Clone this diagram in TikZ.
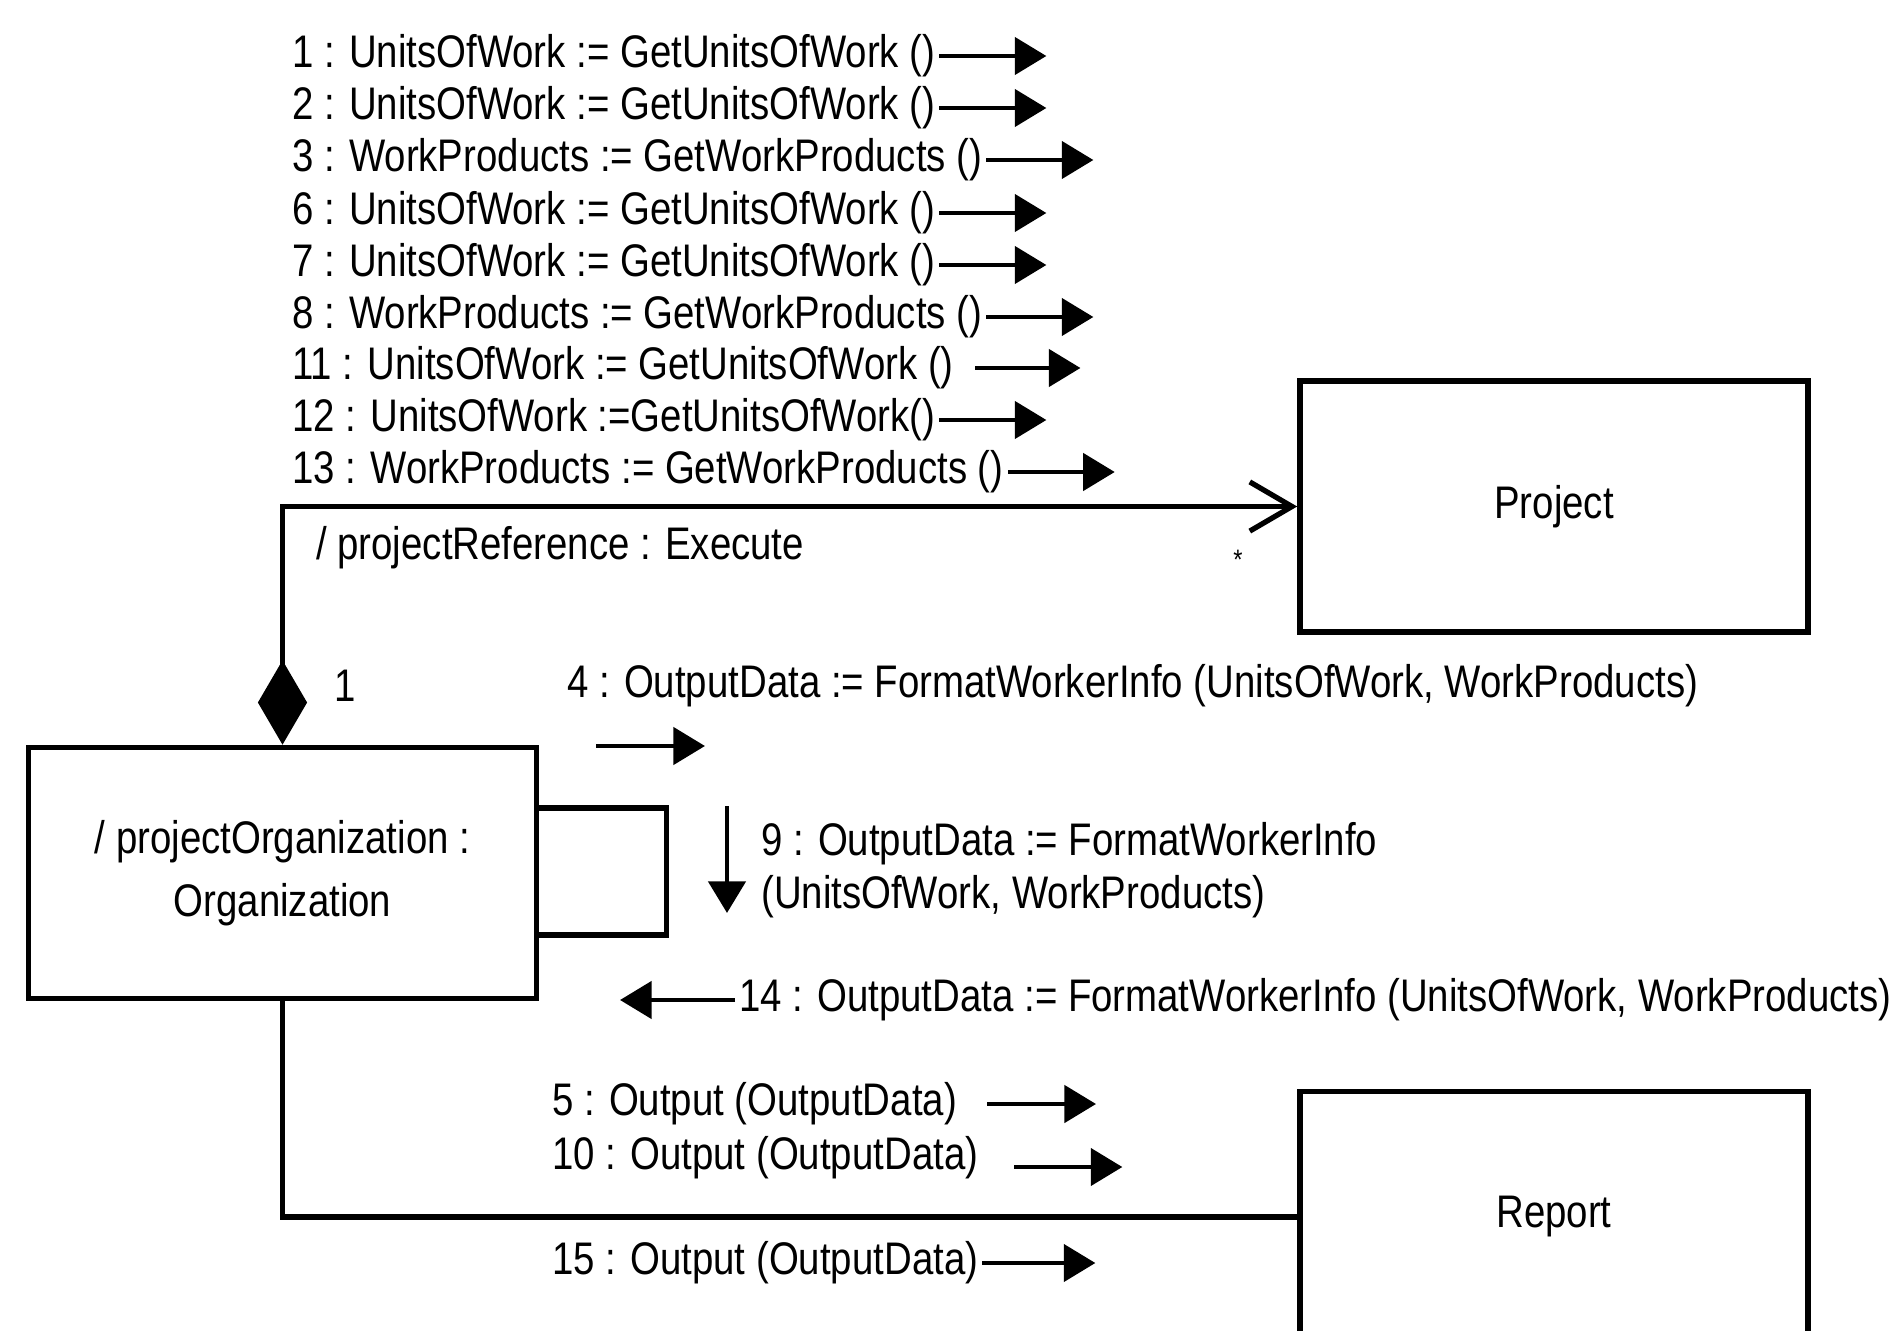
\documentclass[tikz,border=0pt]{standalone}
\usepackage{fontspec}
\setmainfont{Liberation Sans}[FakeStretch=0.84]
\usetikzlibrary{arrows.meta, positioning}

\begin{document}
\begin{tikzpicture}[
    font=\fontsize{13}{15}\selectfont,
    obj/.style={draw, line width=1.6pt, minimum width=5.08cm, minimum height=2.51cm, align=center},
    link/.style={line width=1.5pt},
    msg/.style={line width=1.4pt, -{Triangle[length=9pt,width=10.5pt]}},
    call/.style={anchor=west, inner sep=1pt}
  ]
  \useasboundingbox (0,0) rectangle (18.96,-13.31);
  \clip (0,0) rectangle (18.96,-13.31);

  % objects
  \node[obj] (proj) at (15.54,-5.065) {Project};
  \node[obj] (org) at (2.825,-8.73) {/ projectOrganization :\\[3pt]Organization};
  \node[obj] (rep) at (15.54,-12.17) {Report};

  % links between the objects
  \draw[link, {Diamond[length=24pt,width=14pt]}-{Straight Barb[length=12pt,width=14pt]}]
    (org.north) |- (proj.west);
  \draw[link] (org.south) |- (rep.west);
  \draw[link] ([yshift=6.5mm]org.east) -- ++(1.27,0) -- ++(0,-1.27) -- ++(-1.27,0);

  \node[call] (role) at (3.12,-5.48) {/ projectReference : Execute};
  \node[font=\footnotesize] (mult) at (12.38,-5.6) {*};
  \node (one) at (3.45,-6.86) {1};

  % messages to Project
  \node[call] (c1) at (2.88,-0.56) {1 : UnitsOfWork := GetUnitsOfWork ()};
  \draw[msg] (c1.east) -- ++(1.07,0);
  \node[call] (c2) at (2.88,-1.08) {2 : UnitsOfWork := GetUnitsOfWork ()};
  \draw[msg] (c2.east) -- ++(1.07,0);
  \node[call] (c3) at (2.88,-1.60) {3 : WorkProducts := GetWorkProducts ()};
  \draw[msg] (c3.east) -- ++(1.07,0);
  \node[call] (c6) at (2.88,-2.13) {6 : UnitsOfWork := GetUnitsOfWork ()};
  \draw[msg] (c6.east) -- ++(1.07,0);
  \node[call] (c7) at (2.88,-2.65) {7 : UnitsOfWork := GetUnitsOfWork ()};
  \draw[msg] (c7.east) -- ++(1.07,0);
  \node[call] (c8) at (2.88,-3.17) {8 : WorkProducts := GetWorkProducts ()};
  \draw[msg] (c8.east) -- ++(1.07,0);
  \node[call] (c11) at (2.88,-3.68) {11 : UnitsOfWork := GetUnitsOfWork ()};
  \draw[msg] ([xshift=5pt]c11.east) -- ++(1.05,0);
  \node[call] (c12) at (2.88,-4.20) {12 : UnitsOfWork :=GetUnitsOfWork()};
  \draw[msg] (c12.east) -- ++(1.07,0);
  \node[call] (c13) at (2.88,-4.72) {13 : WorkProducts := GetWorkProducts ()};
  \draw[msg] (c13.east) -- ++(1.07,0);

  % self calls
  \node[call] (c4) at (5.63,-6.86) {4 : OutputData := FormatWorkerInfo (UnitsOfWork, WorkProducts)};
  \draw[msg] ([xshift=3.3mm,yshift=-6mm]c4.west) -- ++(1.09,0);
  \node[call, align=left] (c9) at (7.57,-8.70) {9 : OutputData := FormatWorkerInfo\\(UnitsOfWork, WorkProducts)};
  \draw[msg] ([xshift=-3mm,yshift=6.4mm]c9.west) -- ++(0,-1.07);
  \node[call] (c14) at (7.35,-10.0) {14 : OutputData := FormatWorkerInfo (UnitsOfWork, WorkProducts)};
  \draw[msg] (c14.west) -- ++(-1.15,0);

  % messages to Report
  \node[call] (c5) at (5.48,-11.04) {5 : Output (OutputData)};
  \draw[msg] ([xshift=2.6mm]c5.east) -- ++(1.09,0);
  \node[call] (c10) at (5.48,-11.58) {10 : Output (OutputData)};
  \draw[msg] ([xshift=3.2mm,yshift=-0.9mm]c10.east) -- ++(1.08,0);
  \node[call] (c15) at (5.48,-12.63) {15 : Output (OutputData)};
  \draw[msg] (c15.east) -- ++(1.13,0);
\end{tikzpicture}
\end{document}
